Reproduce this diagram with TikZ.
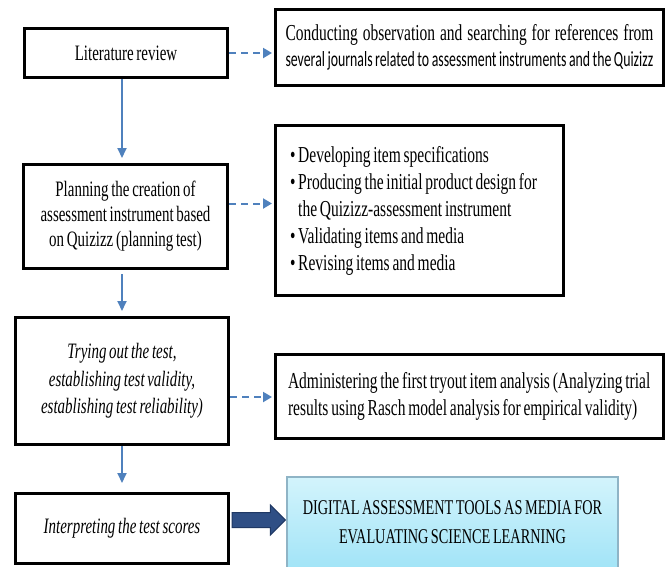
\documentclass[tikz,border=0pt]{standalone}
\usepackage{fontspec}
\setmainfont{Liberation Serif}[FakeStretch=0.68,WordSpace=0.72]
\newfontfamily\calfont{Carlito}[FakeStretch=0.64,WordSpace=0.8]
\usetikzlibrary{arrows.meta,calc}
\definecolor{flowblue}{HTML}{4F81BD}
\definecolor{fatdraw}{HTML}{1F3864}
\definecolor{fatfill}{HTML}{2F4F85}
\definecolor{cyantop}{HTML}{D3F4FC}
\definecolor{cyanbot}{HTML}{A2E4F7}
\definecolor{finborder}{HTML}{8FB4C6}
\begin{document}
\begin{tikzpicture}[x=1pt,y=-1pt,
  box/.style={draw=black,line width=3pt,fill=white,align=center,inner sep=0pt,
    font=\fontsize{22}{25}\selectfont},
  sidebox/.style={draw=black,line width=3pt,fill=white,align=flush left,inner ysep=0pt,
    font=\fontsize{22.8}{27}\selectfont},
  flow/.style={draw=flowblue,line width=1.8pt,-{Triangle[width=9pt,length=10pt]}},
  dflow/.style={draw=flowblue,line width=2pt,dash pattern=on 7pt off 5pt,
    -{Triangle[width=10pt,length=9pt]}},
  fin/.style={draw=finborder,line width=1.2pt,top color=cyantop,bottom color=cyanbot,
    align=center,inner sep=0pt,font=\fontsize{21}{29}\selectfont}
]
\clip (0,0) rectangle (667,566);
\fill[white] (0,0) rectangle (667,566);

% left column
\node[box,minimum width=203pt,minimum height=49pt] (b1) at (126,53) {Literature review};
\node[box,minimum width=204pt,minimum height=104pt] (b2) at (125.5,216.5)
  {Planning the creation of\\assessment instrument based\\on Quizizz (planning test)};
\node[box,minimum width=213pt,minimum height=127pt,font=\fontsize{22}{27.5}\selectfont\itshape] (b3) at (122,381)
  {Trying out the test,\\establishing test validity,\\establishing test reliability)};
\node[box,minimum width=213pt,minimum height=70pt,font=\fontsize{22}{26}\selectfont\itshape] (b4) at (122,528.5)
  {Interpreting the test scores};

% right column
\node[sidebox,text width=368pt,inner xsep=10pt,minimum height=76pt,font=\fontsize{22.8}{26.5}\selectfont] (r1) at (469.5,47.5)
  {\makebox[\linewidth][s]{Conducting observation and searching for references from}\\
   \mbox{\calfont\fontsize{21.6}{26.5}\selectfont several journals related to assessment instruments and the Quizizz}};
\node[sidebox,text width=259pt,inner xsep=14.5pt,minimum height=170pt] (r2) at (419.5,210.5)
  {\mbox{\textbullet\ Developing item specifications}\\
   \mbox{\textbullet\ Producing the initial product design for}\\
   \mbox{\hphantom{\textbullet\ }the Quizizz-assessment instrument}\\
   \mbox{\textbullet\ Validating items and media}\\
   \mbox{\textbullet\ Revising items and media}};
\node[sidebox,text width=363pt,inner xsep=12.5pt,minimum height=84pt,font=\fontsize{22.8}{26.5}\selectfont] (r3) at (469.5,396.5)
  {\mbox{Administering the first tryout item analysis (Analyzing trial}\\
   \mbox{results using Rasch model analysis for empirical validity)}};
\node[fin,minimum width=331pt,minimum height=91pt] (f) at (452.5,522.5)
  {DIGITAL ASSESSMENT TOOLS AS MEDIA FOR\\EVALUATING SCIENCE LEARNING};

% vertical flow
\draw[flow,shorten >=5pt] (b1.south -| b3) -- (b2.north -| b3);
\draw[flow,shorten <=4pt,shorten >=5pt] (b2.south -| b3) -- (b3.north -| b3);
\draw[flow,shorten >=9pt] (b3.south -| b3) -- (b4.north -| b3);

% dashed side arrows
\draw[dflow,shorten >=2pt] (b1.east) -- (b1.east -| r1.west);
\draw[dflow,shorten >=2pt] ([yshift=13pt]b2.east) -- ([yshift=13pt]b2.east -| r2.west);
\draw[dflow,shorten >=2pt] ([yshift=-16pt]b3.east) -- ([yshift=-16pt]b3.east -| r3.west);

% fat arrow
\filldraw[fill=fatfill,draw=fatdraw,line width=1pt]
  let \p1=([yshift=8.5pt]b4.east), \p2=(f.west) in
  (\x1+2pt,\y1+7.5pt) -- (\x2-16pt,\y1+7.5pt) -- (\x2-16pt,\y1+15pt) -- (\x2-1pt,\y1)
  -- (\x2-16pt,\y1-15pt) -- (\x2-16pt,\y1-7.5pt) -- (\x1+2pt,\y1-7.5pt) -- cycle;
\end{tikzpicture}
\end{document}
